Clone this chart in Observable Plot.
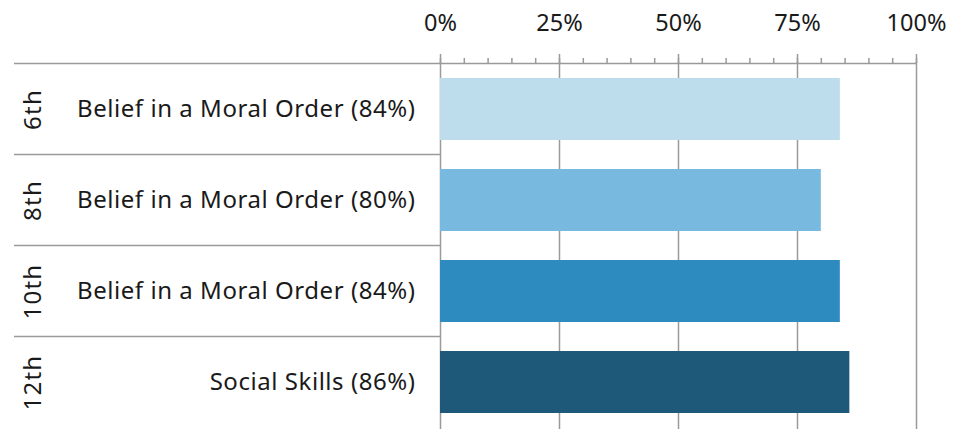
<!DOCTYPE html>
<html>
<head>
<meta charset="utf-8">
<script src="https://cdn.jsdelivr.net/npm/d3@7"></script>
<script src="https://cdn.jsdelivr.net/npm/@observablehq/plot@0.6"></script>
<style>
  html, body { margin: 0; padding: 0; background: #fff; overflow: hidden; }
  svg { display: block; }
  .ylab text { letter-spacing: 0.55px; }
  .grade text { letter-spacing: 1.2px; }
</style>
</head>
<body>
<div id="chart"></div>
<script>
const grades = ["6th", "8th", "10th", "12th"];
const categories = ["Belief in a Moral Order", "Belief in a Moral Order", "Belief in a Moral Order", "Social Skills"];
const values = [84, 80, 84, 86];
const colors = ["#bddded", "#77b9df", "#2e8bc0", "#1e597a"];
const majorTicks = [0, 25, 50, 75, 100];
const minorTicks = d3.range(0, 101, 5);

const rows = grades.map((g, i) => ({grade: g, category: categories[i], value: values[i], color: colors[i]}));
const labelOf = new Map(rows.map(r => [r.grade, `${r.category} (${r.value}%)`]));

const FONT = "'Noto Sans', 'Open Sans', sans-serif";
const GRID = "#9a9a9a";

// separators between rows, drawn from the band scale
function separators(index, scales, values, dimensions) {
  const y = scales.y;
  const gap = (y.step() - y.bandwidth()) / 2;
  const x0 = scales.x(0);
  const g = d3.create("svg:g").attr("stroke", GRID).attr("stroke-width", 1.5);
  grades.forEach((d, i) => {
    const yy = y(d) - gap;
    g.append("line").attr("x1", 14).attr("x2", i === 0 ? scales.x(100) : x0)
      .attr("y1", yy).attr("y2", yy);
  });
  return g.node();
}

const chart = Plot.plot({
  width: 965,
  height: 429,
  marginTop: 62,
  marginLeft: 440,
  marginRight: 49,
  marginBottom: 0,
  style: {fontFamily: FONT, fontSize: "24px", color: "#1a1a1a", background: "#fff"},
  x: {domain: [0, 100]},
  y: {domain: grades, paddingInner: 0.32, paddingOuter: 0.16},
  marks: [
    Plot.gridX(majorTicks, {stroke: GRID, strokeOpacity: 1, strokeWidth: 1.5}),
    Plot.barX(rows, {y: "grade", x: "value", fill: "color"}),
    separators,
    Plot.axisX(minorTicks, {anchor: "top", tickSize: 5, tickFormat: () => "", stroke: GRID, strokeWidth: 1.5, label: null}),
    Plot.axisX(majorTicks, {anchor: "top", tickSize: 9, tickPadding: 23, tickFormat: d => d + "%", stroke: GRID, strokeWidth: 1.5, fontSize: 23.5, label: null}),
    Plot.axisY({tickSize: 0, tickPadding: 25, tickFormat: d => labelOf.get(d), fontSize: 24, label: null, className: "ylab"}),
    Plot.text(rows, {y: "grade", text: "grade", frameAnchor: "left", dx: -407, rotate: -90, textAnchor: "middle", fontSize: 24, fill: "#1a1a1a", className: "grade"})
  ]
});
document.getElementById("chart").appendChild(chart);
</script>
</body>
</html>
